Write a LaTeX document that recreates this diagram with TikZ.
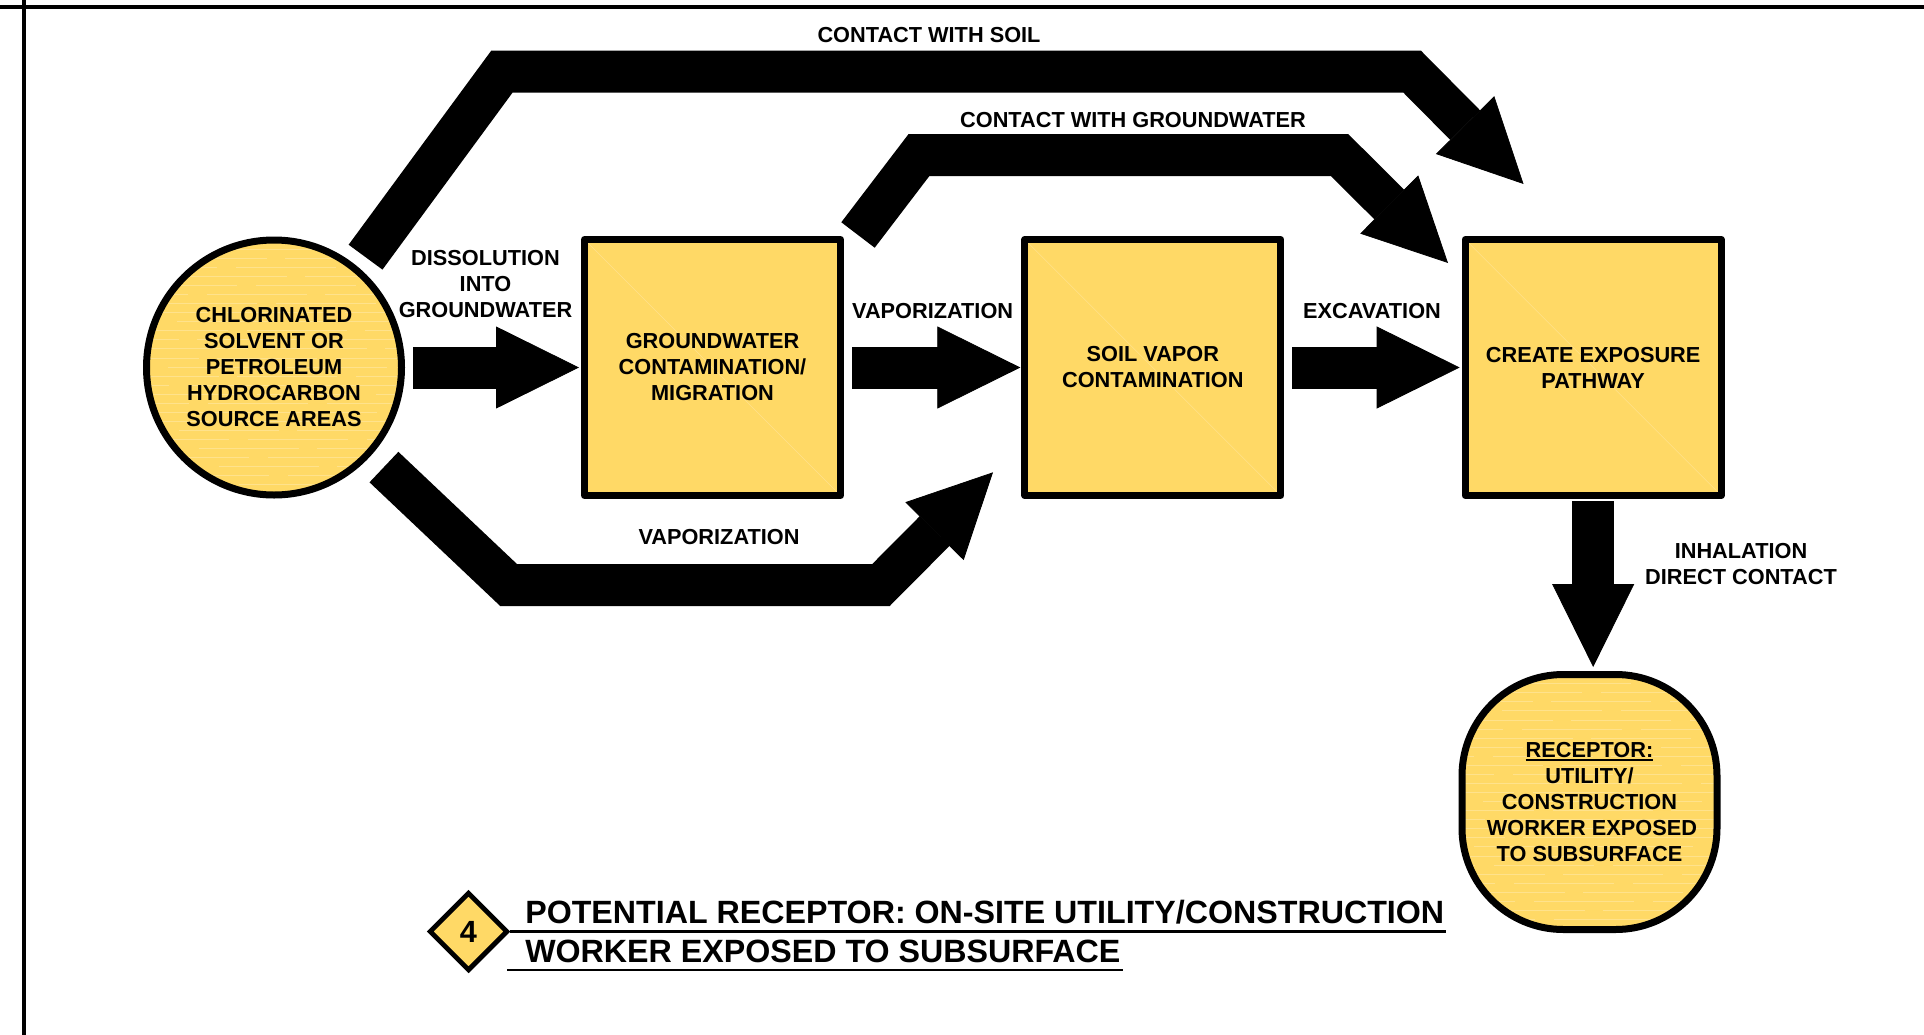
\documentclass[tikz,border=0pt]{standalone}
\usepackage{fontspec}
\setmainfont{Liberation Sans}
\usepackage{xcolor}
\usepackage{tikz}
\usetikzlibrary{arrows.meta,positioning,shapes.geometric}
\definecolor{wash}{HTML}{FFD966}
\definecolor{washlight}{HTML}{FFE28C}
\newcommand{\headword}[1]{\vtop{\hbox{#1}\kern1.3pt\hrule height 1.1pt}}
\tikzset{
  sheen/.style={washlight, line width=0.5pt, dash pattern=on 75pt off 14pt},
  streaked/.style={path picture={
    \foreach \k in {1,...,28}
      \draw[sheen, dash phase=\k*37pt] ([yshift=-\k*6.8pt]path picture bounding box.north west) -- ([yshift=-\k*6.8pt]path picture bounding box.north east);
  }},
  creased/.style={path picture={
    \draw[washlight, line width=0.4pt] (path picture bounding box.north west) -- (path picture bounding box.south east);
  }},
  block/.style={rectangle, draw, fill=wash, line width=5.25pt, line join=round, creased, align=center, minimum width=192pt, minimum height=192pt, inner sep=0pt, font=\fontsize{16.3}{19.5}\selectfont\bfseries, execute at begin node={\vspace*{1.6pt}}},
  sourceblock/.style={block, circle, streaked, minimum width=191.25pt, minimum height=191.25pt},
  roundblock/.style={block, rounded corners=76pt, streaked, minimum width=191.25pt, minimum height=191.25pt},
  badge/.style={diamond, draw, fill=wash, line width=3.6pt, aspect=1, inner sep=0pt, minimum width=59pt, minimum height=59pt, font=\fontsize{23}{26}\selectfont\bfseries},
  note/.style={align=center, font=\fontsize{16.3}{19.5}\selectfont\bfseries, inner sep=0pt},
  titletext/.style={anchor=base west, inner sep=0pt, font=\fontsize{24.15}{29}\selectfont\bfseries},
  pathway/.style={line width=31.5pt, -{Triangle[length=62.25pt, width=61.5pt, line width=0.6pt]}},
  underrule/.style={line width=1.9pt},
  sheetline/.style={line width=3.2pt}
}
\begin{document}
\begin{tikzpicture}[x=0.75pt, y=-0.75pt, node distance=133pt]
  \useasboundingbox (0,0) rectangle (1924,1035);
  \draw[sheetline] (0,7) -- (1924,7);
  \draw[sheetline] (23.7,0) -- (23.7,1035);

  \node[sourceblock] (source) at (274,367.5) {CHLORINATED\\SOLVENT OR\\PETROLEUM\\HYDROCARBON\\SOURCE AREAS};
  \node[block, right=132pt of source] (groundwater) {GROUNDWATER\\CONTAMINATION/\\MIGRATION};
  \node[block, right=of groundwater] (soilvapor) {SOIL VAPOR\\CONTAMINATION};
  \node[block, right=of soilvapor] (exposure) {CREATE EXPOSURE\\PATHWAY};
  \node[roundblock, execute at begin node={}] (receptor) at (1589.5,802) {\headword{RECEPTOR:}\\UTILITY/\\CONSTRUCTION\\\hspace*{3.7pt}WORKER EXPOSED\\TO SUBSURFACE};
  \node[badge] (badge4) at (468.5,931.5) {4};

  % bends of the long arrows
  \coordinate (soilA) at (502,71.5);
  \coordinate (soilB) at (1412,71.5);
  \coordinate (soilTip) at (1523.5,184);
  \coordinate (waterTail) at (858,235);
  \coordinate (waterA) at (919,155);
  \coordinate (waterB) at (1339.5,155);
  \coordinate (waterTip) at (1448,263);
  \coordinate (vapourA) at (508.6,585);
  \coordinate (vapourB) at (881,585);
  \coordinate (vapourTip) at (993,472.3);

  \draw[pathway, shorten <=6pt, shorten >=1.5pt] (source) -- (groundwater);
  \draw[pathway, shorten <=6pt, shorten >=0.75pt] (groundwater) -- (soilvapor);
  \draw[pathway, shorten <=6pt, shorten >=1.5pt] (soilvapor) -- (exposure);
  \draw[pathway, shorten <=1.5pt, shorten >=3pt] (exposure) -- (exposure |- receptor.north);
  \draw[pathway, shorten <=9.3pt] (source.50) -- (soilA) -- (soilB) -- (soilTip);
  \draw[pathway] (waterTail) -- (waterA) -- (waterB) -- (waterTip);
  \draw[pathway, shorten <=13pt] (source.318) -- (vapourA) -- (vapourB) -- (vapourTip);

  \node[note] (soillabel) at (929,35) {CONTACT WITH SOIL};
  \node[note] (waterlabel) at (1133,120) {CONTACT WITH GROUNDWATER};
  \node[note] (dissolution) at (485.5,284) {DISSOLUTION\\INTO\\GROUNDWATER};
  \node[note] (vaporA) at (932.6,311) {VAPORIZATION};
  \node[note] (excavation) at (1372,311) {EXCAVATION};
  \node[note] (vaporB) at (719,537) {VAPORIZATION};
  \node[note] (inhalation) at (1741,564) {INHALATION\\DIRECT CONTACT};

  \node[titletext] (titleA) at (525,923) {POTENTIAL RECEPTOR: ON-SITE UTILITY/CONSTRUCTION};
  \node[titletext] (titleB) at (525,962) {WORKER EXPOSED TO SUBSURFACE};
  \draw[underrule] (badge4.east) -- (1446,931.5);
  \draw[underrule] (507,970) -- (1123,970);
\end{tikzpicture}
\end{document}
